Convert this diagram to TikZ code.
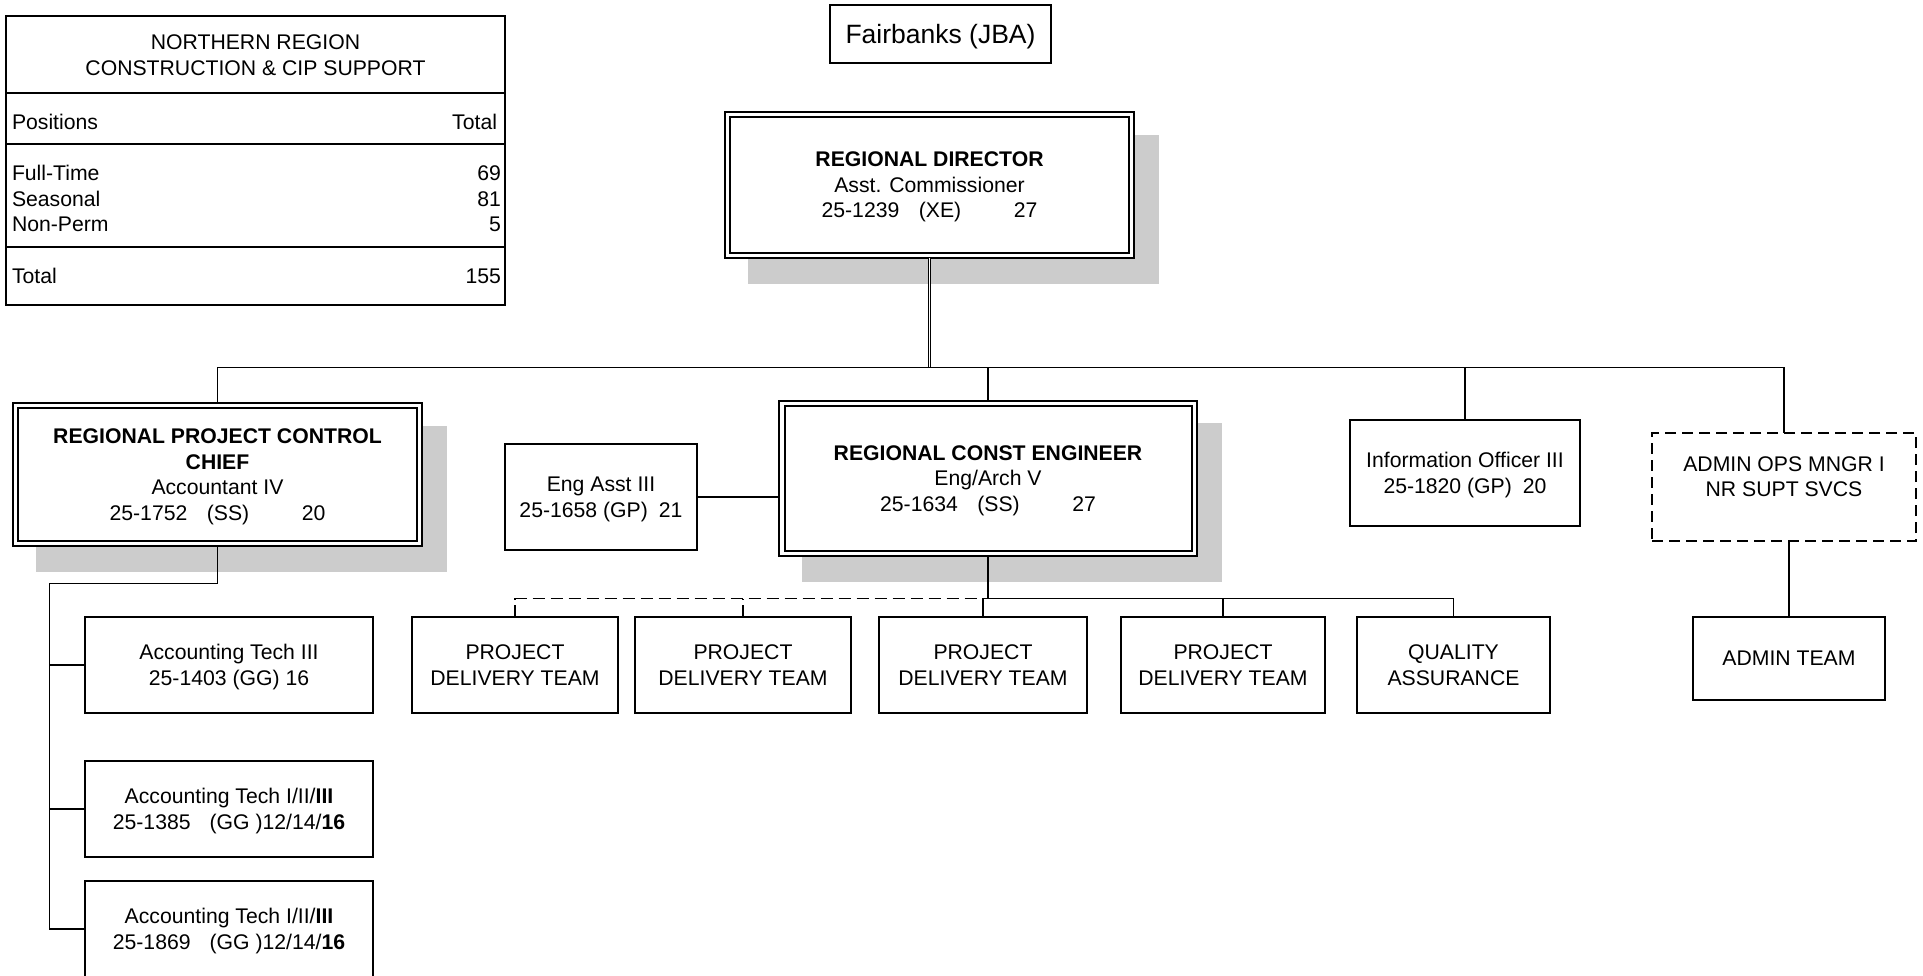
\documentclass[tikz,border=0pt]{standalone}
\usepackage{fontspec}
\setmainfont{Liberation Sans}
\usetikzlibrary{backgrounds}
\definecolor{shade}{HTML}{CCCCCC}
\newcommand\nodp[1]{\raisebox{0pt}[\height][0pt]{#1}}
\begin{document}
\begin{tikzpicture}[x=0.5pt,y=-0.5pt,
  every node/.style={font=\fontsize{10.6}{12.75}\selectfont},
  box/.style={draw, line width=0.8pt, fill=white, align=center, inner sep=0pt, outer sep=0pt},
  dbox/.style={box, dash pattern=on 5.5pt off 3pt},
  txt/.style={inner sep=0pt, outer sep=0pt},
  conn/.style={line width=0.8pt},
  dconn/.style={line width=0.8pt, dash pattern=on 6pt off 3pt},
  inner/.style={line width=#1},
  shadowfill/.style={fill=shade}]
\useasboundingbox (0,0) rectangle (1923,975);
\begin{pgfonlayer}{background}
\fill[white] (0,0) rectangle (1923,975);
\end{pgfonlayer}
\clip (0,0) rectangle (1923,975);

% ---------- summary table ----------
\node[draw, line width=1.3pt, minimum width=249.5pt, minimum height=144.5pt, inner sep=0pt, outer sep=0pt] (tbl) at (255.5,160.5) {};
\coordinate (h1) at (0,93);
\coordinate (h2) at (0,144);
\coordinate (h3) at (0,247);
\draw[line width=1.3pt] (tbl.west |- h1) -- (tbl.east |- h1);
\draw[line width=0.8pt] (tbl.west |- h2) -- (tbl.east |- h2);
\draw[line width=0.8pt] (tbl.west |- h3) -- (tbl.east |- h3);
\node[txt, align=center] (thead) at (255.5,55) {NORTHERN REGION\\CONSTRUCTION \& CIP SUPPORT};
\node[txt, anchor=base west] (tpos) at (12,129.6) {Positions};
\node[txt, anchor=base east] (ttot) at (497,129.6) {Total};
\node[txt, anchor=base west] (tft) at (12,180.6) {Full-Time};
\node[txt, anchor=base east] (tftn) at (501,180.6) {69};
\node[txt, anchor=base west] (tse) at (12,206.6) {Seasonal};
\node[txt, anchor=base east] (tsen) at (501,206.6) {81};
\node[txt, anchor=base west] (tnp) at (12,231.6) {Non-Perm};
\node[txt, anchor=base east] (tnpn) at (501,231.6) {5};
\node[txt, anchor=base west] (tt) at (12,283.6) {Total};
\node[txt, anchor=base east] (ttn) at (501,283.6) {155};

% ---------- boxes ----------
\node[box, minimum width=110.5pt, minimum height=29pt, font=\fontsize{13.25}{15}\selectfont] (fair) at (940.5,34) {\nodp{Fairbanks (JBA)}};

\node[box, line width=1.35pt, minimum width=204.5pt, minimum height=73pt] (dir) at (929.5,185)
  {\textbf{REGIONAL DIRECTOR}\\Asst. Commissioner\\\nodp{25-1239\hspace{9.75pt}(XE)\hspace{26.25pt}27}};

\node[box, minimum width=204.5pt, minimum height=71.5pt] (rpcc) at (217.5,474.5)
  {\textbf{REGIONAL PROJECT CONTROL}\\\textbf{CHIEF}\\Accountant IV\\\nodp{25-1752\hspace{9.75pt}(SS)\hspace{26.25pt}20}};

\node[box, line width=1pt, minimum width=209pt, minimum height=77.75pt] (rce) at (988,478.25)
  {\textbf{REGIONAL CONST ENGINEER}\\Eng/Arch V\\\nodp{25-1634\hspace{9.75pt}(SS)\hspace{26.25pt}27}};

\node[box, minimum width=96pt, minimum height=53pt] (engasst) at (601,497)
  {Eng Asst III\\\nodp{25-1658 (GP)\hspace{5.5pt}21}};

\node[box, minimum width=115pt, minimum height=53pt] (info) at (1465,473)
  {Information Officer III\\\nodp{25-1820 (GP)\hspace{5.5pt}20}};

\node[dbox, minimum width=132pt, minimum height=54pt] (adminops) at (1784,487)
  {ADMIN OPS MNGR I\\NR SUPT SVCS\\[-2.5pt]\mbox{}};

\node[box, minimum width=96pt, minimum height=41.5pt] (adminteam) at (1789,658.5) {ADMIN TEAM};

\node[box, minimum width=103pt, minimum height=48pt] (pdt1) at (515,665) {PROJECT\\DELIVERY TEAM};
\node[box, minimum width=108pt, minimum height=48pt] (pdt2) at (743,665) {PROJECT\\DELIVERY TEAM};
\node[box, minimum width=104pt, minimum height=48pt] (pdt3) at (983,665) {PROJECT\\DELIVERY TEAM};
\node[box, minimum width=102pt, minimum height=48pt] (pdt4) at (1223,665) {PROJECT\\DELIVERY TEAM};
\node[box, minimum width=96.5pt, minimum height=48pt] (qa) at (1453.5,665) {QUALITY\\ASSURANCE};

\node[box, minimum width=144pt, minimum height=48pt] (at1) at (229,665)
  {Accounting Tech III\\\nodp{25-1403 (GG) 16}};
\node[box, minimum width=144pt, minimum height=48pt] (at2) at (229,809)
  {Accounting Tech I/II/\textbf{III}\\\nodp{25-1385\hspace{9.5pt}(GG )12/14/\textbf{16}}};
\node[box, minimum width=144pt, minimum height=48pt] (at3) at (229,929)
  {Accounting Tech I/II/\textbf{III}\\\nodp{25-1869\hspace{9.5pt}(GG )12/14/\textbf{16}}};

% ---------- double borders ----------
\draw[inner=1pt] ([shift={(5,5)}]dir.north west) rectangle ([shift={(-5,-5)}]dir.south east);
\draw[inner=1pt] ([shift={(5.5,5.5)}]rce.north west) rectangle ([shift={(-5.5,-5.5)}]rce.south east);
\draw[inner=0.75pt] ([shift={(5,5)}]rpcc.north west) rectangle ([shift={(-5,-5)}]rpcc.south east);

% ---------- shadows ----------
\begin{pgfonlayer}{background}
\fill[shadowfill] ([shift={(23,25.5)}]dir.south west) rectangle ([shift={(25,22.5)}]dir.north east);
\fill[shadowfill] ([shift={(23,25.5)}]rce.south west) rectangle ([shift={(25,22.5)}]rce.north east);
\fill[shadowfill] ([shift={(23,25.5)}]rpcc.south west) rectangle ([shift={(25,22.5)}]rpcc.north east);
\end{pgfonlayer}

% ---------- connectors ----------
\coordinate (bus) at (929,367.5);
\draw[line width=0.6pt, double, double distance=0.5pt] (dir.south) -- (dir.south |- bus);
\draw[conn] (rpcc.north) -- (rpcc.north |- bus) -- (adminops.north |- bus) -- (adminops.north);
\draw[conn] (rce.north) -- (rce.north |- bus);
\draw[conn] (info.north) -- (info.north |- bus);

\draw[conn] (engasst.east) -- (engasst.east -| rce.west);

\coordinate (tbus) at (988,598.5);
\draw[conn] (rce.south) -- (rce.south |- tbus);
\draw[conn] (pdt3.north) -- (pdt3.north |- tbus) -- (qa.north |- tbus) -- (qa.north);
\draw[conn] (pdt4.north) -- (pdt4.north |- tbus);
\draw[dconn] (pdt1.north) -- (pdt1.north |- tbus) -- (pdt3.north |- tbus);
\draw[dconn] (pdt2.north) -- (pdt2.north |- tbus);

\draw[conn] (adminteam.north) -- (adminteam.north |- adminops.south);

\coordinate (spine) at (49.3,583.3);
\draw[conn] (rpcc.south) |- (spine) -- (spine |- at3.west) -- (at3.west);
\draw[conn] (spine |- at1.west) -- (at1.west);
\draw[conn] (spine |- at2.west) -- (at2.west);
\end{tikzpicture}
\end{document}
